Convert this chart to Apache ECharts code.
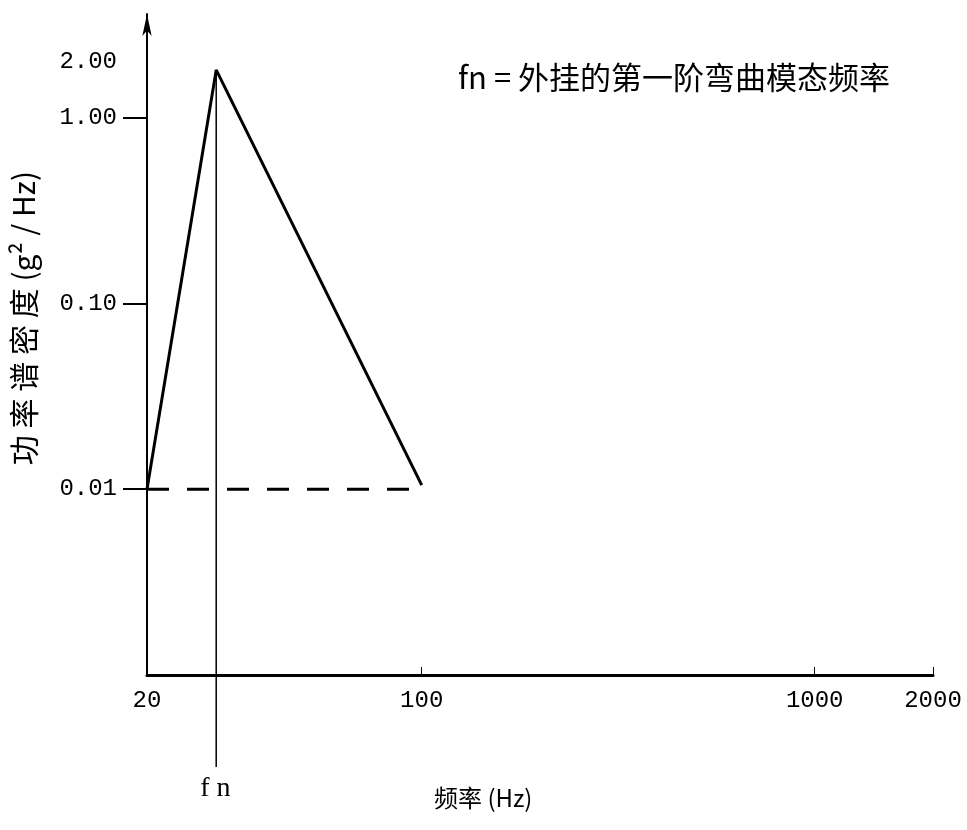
<!DOCTYPE html>
<html>
<head>
<meta charset="utf-8">
<script src="https://cdn.jsdelivr.net/npm/echarts@6/dist/echarts.min.js"></script>
<style>
  html, body { margin: 0; padding: 0; background: #fff; }
  #chart { width: 967px; height: 830px; }
</style>
</head>
<body>
<div id="chart"></div>
<script>
// 频率-功率谱密度 折线 (三角形谱)
const freq = [20, 30, 100];
const psd = [0.01, 1.8, 0.0105];
// 0.01 水平虚线
const baseFreq = [20, 100];
const baseLevel = [0.01, 0.01];
// fn 竖线
const fnFreq = [30, 30];
const fnLevel = [1.8, 0.00032];
// 刻度
const xLabels = [20, 100, 1000, 2000];
const xTicks = [100, 1000, 2000];
const yLabels = [0.01, 0.1, 1, 2];
const yTicks = [0.01, 0.1, 1];

const numFont = '"Liberation Mono", "DejaVu Sans Mono", monospace';
const cjkFont = '"Noto Sans CJK SC", sans-serif';

const myChart = echarts.init(document.getElementById('chart'));

const option = {
    animation: false,
    backgroundColor: '#fff',
    grid: {
        left: 147,
        width: 786,
        top: 14,
        bottom: 155
    },
    xAxis: {
        type: 'log',
        min: 20,
        max: 2000,
        axisLine: { lineStyle: { color: '#000', width: 3 } },
        axisTick: {
            customValues: xTicks,
            inside: true,
            length: 8,
            lineStyle: { color: '#000', width: 1 }
        },
        axisLabel: {
            customValues: xLabels,
            color: '#000',
            fontFamily: numFont,
            fontSize: 24,
            margin: 14,
            formatter: v => String(v)
        },
        splitLine: { show: false },
        minorTick: { show: false }
    },
    yAxis: {
        type: 'log',
        min: 0.001,
        max: 3.6,
        axisLine: {
            lineStyle: { color: '#000', width: 2 },
            symbol: ['none', 'arrow'],
            symbolSize: [7, 22]
        },
        axisTick: {
            customValues: yTicks,
            length: 24,
            lineStyle: { color: '#000', width: 2 }
        },
        axisLabel: {
            customValues: yLabels,
            color: '#000',
            fontFamily: numFont,
            fontSize: 24,
            margin: 30,
            formatter: v => Number(v).toFixed(2)
        },
        splitLine: { show: false }
    },
    graphic: [
        {
            type: 'text',
            left: 458,
            top: 62,
            style: {
                text: 'fn = 外挂的第一阶弯曲模态频率',
                font: '31px ' + cjkFont,
                fill: '#000'
            }
        },
        {
            type: 'text',
            left: 434,
            top: 786,
            style: {
                text: '频率 (Hz)',
                font: '24px ' + cjkFont,
                fill: '#000'
            }
        },
        {
            type: 'text',
            x: 24,
            y: 318,
            rotation: Math.PI / 2,
            style: {
                text: '功 率 谱 密 度 (g² / Hz)',
                font: '30px ' + cjkFont,
                fill: '#000',
                align: 'center',
                verticalAlign: 'middle'
            }
        }
    ],
    series: [
        {
            name: 'PSD',
            type: 'line',
            data: freq.map((f, i) => [f, psd[i]]),
            symbol: 'none',
            lineStyle: { color: '#000', width: 3 }
        },
        {
            name: 'base',
            type: 'line',
            data: baseFreq.map((f, i) => [f, baseLevel[i]]),
            symbol: 'none',
            lineStyle: { color: '#000', width: 3, type: [22, 18] }
        },
        {
            name: 'fn',
            type: 'line',
            clip: false,
            data: fnFreq.map((f, i) => [f, fnLevel[i]]),
            symbol: 'none',
            lineStyle: { color: '#000', width: 1.5 },
            endLabel: {
                show: true,
                formatter: 'f n',
                fontFamily: '"Liberation Serif", serif',
                fontSize: 28,
                color: '#000',
                offset: [-24, 22]
            }
        }
    ]
};

myChart.setOption(option);
</script>
</body>
</html>
